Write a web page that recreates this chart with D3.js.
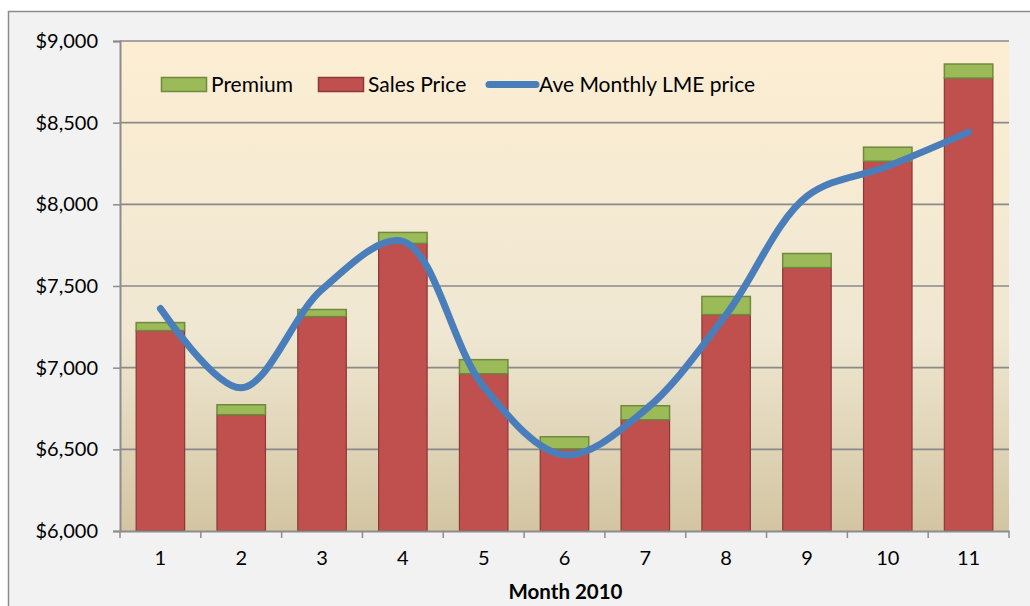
<!DOCTYPE html>
<html><head><meta charset="utf-8">
<script src="https://cdn.jsdelivr.net/npm/d3@7"></script>
<style>html,body{margin:0;padding:0;background:#fff}svg{display:block}text{font-family:Lato,"Open Sans",sans-serif}</style>
</head><body>
<svg id="c" width="1030" height="606"></svg>
<script>
const months = ["1","2","3","4","5","6","7","8","9","10","11"];
const salesPrice = [7227, 6712, 7313, 7761, 6963, 6503, 6681, 7325, 7613, 8264, 8773];
const premiumTop = [7276, 6773, 7356, 7828, 7049, 6577, 6767, 7436, 7699, 8350, 8859];
const lmePrice = [7362, 6877, 7479, 7773, 6883, 6466, 6742, 7325, 8049, 8233, 8442];
const yTicks = [6000, 6500, 7000, 7500, 8000, 8500, 9000];
const seriesNames = ["Premium", "Sales Price", "Ave Monthly LME price"];

const svg = d3.select("#c");
const W = 1030, H = 606;
const m = {l:120, r:1009, t:41, b:531};

svg.append("rect").attr("x",8.5).attr("y",11.5).attr("width",W+10).attr("height",H)
  .attr("fill","#f2f2f2").attr("stroke","#8c8c8c").attr("stroke-width",1.5);

const defs = svg.append("defs");
const g = defs.append("linearGradient").attr("id","bg").attr("x1",0).attr("y1",0).attr("x2",0).attr("y2",1);
g.append("stop").attr("offset","0%").attr("stop-color","#fdeed3");
g.append("stop").attr("offset","60%").attr("stop-color","#efe7d2");
g.append("stop").attr("offset","100%").attr("stop-color","#d3c5a2");

const x = d3.scaleBand().domain(months).range([m.l, m.r]).paddingInner(0.4).paddingOuter(0.2);
const y = d3.scaleLinear().domain([6000, 9000]).range([m.b, m.t]);

svg.append("rect").attr("x",m.l).attr("y",m.t).attr("width",m.r-m.l).attr("height",m.b-m.t).attr("fill","url(#bg)");

// gridlines
svg.append("g").selectAll("line").data(yTicks.slice(1)).join("line")
  .attr("x1",m.l).attr("x2",m.r).attr("y1",d=>y(d)).attr("y2",d=>y(d))
  .attr("stroke","#8a8a8a").attr("stroke-width",1.6);

// y axis
const ya = svg.append("g").attr("transform",`translate(${m.l},0)`)
  .call(d3.axisLeft(y).tickValues(yTicks).tickSize(7).tickPadding(15).tickFormat(d=>"$"+d3.format(",")(d)));
ya.select(".domain").attr("stroke","#8c8c8c").attr("stroke-width",2);
ya.selectAll(".tick line").attr("stroke","#8c8c8c").attr("stroke-width",1.5);
ya.selectAll("text").attr("font-size",20).attr("fill","#000").attr("font-family","Lato,'Open Sans',sans-serif");

// bars
const bars = svg.append("g");
bars.selectAll("rect.s").data(months).join("rect").attr("class","s")
  .attr("x",d=>x(d)).attr("width",x.bandwidth())
  .attr("y",(d,i)=>y(salesPrice[i])).attr("height",(d,i)=>y(6000)-y(salesPrice[i]))
  .attr("fill","#c0504d").attr("stroke","#8c3836").attr("stroke-width",1.2);
bars.selectAll("rect.p").data(months).join("rect").attr("class","p")
  .attr("x",d=>x(d)).attr("width",x.bandwidth())
  .attr("y",(d,i)=>y(premiumTop[i])).attr("height",(d,i)=>y(salesPrice[i])-y(premiumTop[i]))
  .attr("fill","#9bbb59").attr("stroke","#71893f").attr("stroke-width",1.5);

// x axis
const xa = svg.append("g").attr("transform",`translate(0,${m.b})`)
  .call(d3.axisBottom(x).tickSize(0).tickPadding(20));
xa.select(".domain").attr("stroke","#8c8c8c").attr("stroke-width",2);
xa.selectAll("text").attr("font-size",20).attr("fill","#000").attr("font-family","Lato,'Open Sans',sans-serif");
const bounds = d3.range(months.length+1).map(i=>m.l + i*(m.r-m.l)/months.length);
svg.append("g").selectAll("line").data(bounds).join("line")
  .attr("x1",d=>d).attr("x2",d=>d).attr("y1",m.b).attr("y2",m.b+7)
  .attr("stroke","#8c8c8c").attr("stroke-width",1.5);

svg.append("text").attr("x",(m.l+m.r)/2+1).attr("y",599).attr("text-anchor","middle")
  .attr("font-size",20.5).attr("font-weight","bold").text("Month 2010");

// line
const line = d3.line().x((d,i)=>x(months[i])+x.bandwidth()/2).y(d=>y(d)).curve(d3.curveCatmullRom.alpha(0.5));
svg.append("path").datum(lmePrice).attr("d",line).attr("fill","none")
  .attr("stroke","#4a7ebb").attr("stroke-width",7).attr("stroke-linecap","round").attr("stroke-linejoin","round");

// legend
const lg = svg.append("g");
lg.append("rect").attr("x",161.5).attr("y",77.5).attr("width",45).attr("height",14)
  .attr("fill","#9bbb59").attr("stroke","#71893f").attr("stroke-width",1.5);
lg.append("text").attr("x",211).attr("y",91.5).attr("font-size",21).text(seriesNames[0]);
lg.append("rect").attr("x",318.5).attr("y",77.5).attr("width",45).attr("height",14)
  .attr("fill","#c0504d").attr("stroke","#8c3836").attr("stroke-width",1.5);
lg.append("text").attr("x",368).attr("y",91.5).attr("font-size",21).text(seriesNames[1]);
lg.append("line").attr("x1",489).attr("x2",536).attr("y1",84.5).attr("y2",84.5)
  .attr("stroke","#4a7ebb").attr("stroke-width",7).attr("stroke-linecap","round");
lg.append("text").attr("x",539).attr("y",91.5).attr("font-size",21).text(seriesNames[2]);
</script>
</body></html>
